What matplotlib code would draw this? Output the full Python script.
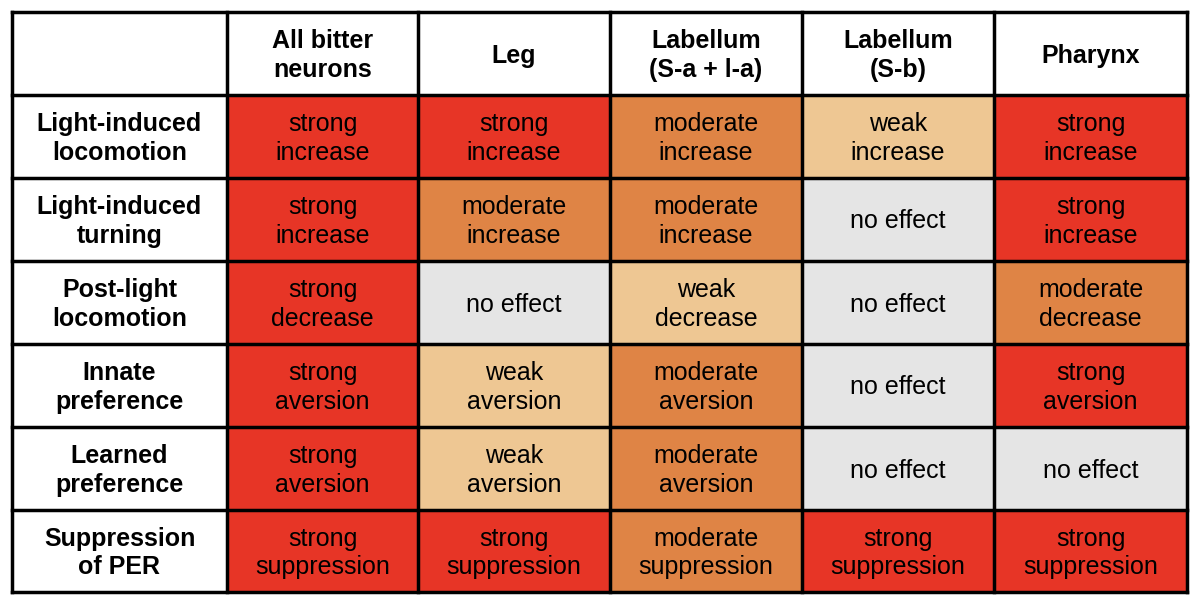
import matplotlib.pyplot as plt
from matplotlib.patches import Rectangle

plt.rcParams['font.family'] = ['Liberation Sans', 'DejaVu Sans']

# Table content
columns = ['All bitter\nneurons', 'Leg', 'Labellum\n(S-a + l-a)', 'Labellum\n(S-b)', 'Pharynx']
rows = ['Light-induced\nlocomotion', 'Light-induced\nturning', 'Post-light\nlocomotion',
        'Innate\npreference', 'Learned\npreference', 'Suppression\nof PER']
cells = [
    ['strong\nincrease', 'strong\nincrease', 'moderate\nincrease', 'weak\nincrease', 'strong\nincrease'],
    ['strong\nincrease', 'moderate\nincrease', 'moderate\nincrease', 'no effect', 'strong\nincrease'],
    ['strong\ndecrease', 'no effect', 'weak\ndecrease', 'no effect', 'moderate\ndecrease'],
    ['strong\naversion', 'weak\naversion', 'moderate\naversion', 'no effect', 'strong\naversion'],
    ['strong\naversion', 'weak\naversion', 'moderate\naversion', 'no effect', 'no effect'],
    ['strong\nsuppression', 'strong\nsuppression', 'moderate\nsuppression', 'strong\nsuppression', 'strong\nsuppression'],
]

colors = {'strong': '#E73526', 'moderate': '#DF8445', 'weak': '#EEC793', 'no': '#E5E5E5'}

# grid in pixel coords
x_edges = [12, 227, 418, 610, 802, 994, 1187]
y_edges = [12, 95, 178, 261, 344, 427, 510, 592]

fig = plt.figure(figsize=(12, 6.04), dpi=100)
ax = fig.add_axes([0, 0, 1, 1])
ax.set_xlim(0, 1200)
ax.set_ylim(604, 0)
ax.axis('off')

fs = 18
ls = 1.26

for j, col in enumerate(columns):
    x0, x1 = x_edges[j + 1], x_edges[j + 2]
    ax.text((x0 + x1) / 2, (y_edges[0] + y_edges[1]) / 2 + 2, col, ha='center', va='center',
            fontsize=fs, fontweight='bold', linespacing=ls)

for i, row in enumerate(rows):
    y0, y1 = y_edges[i + 1], y_edges[i + 2]
    ax.text((x_edges[0] + x_edges[1]) / 2, (y0 + y1) / 2 + 2, row, ha='center', va='center',
            fontsize=fs, fontweight='bold', linespacing=ls)
    for j, val in enumerate(cells[i]):
        x0, x1 = x_edges[j + 1], x_edges[j + 2]
        ax.add_patch(Rectangle((x0, y0), x1 - x0, y1 - y0,
                               facecolor=colors[val.split()[0]], edgecolor='none', zorder=0))
        ax.text((x0 + x1) / 2, (y0 + y1) / 2 + 2, val, ha='center', va='center',
                fontsize=fs, linespacing=ls)

# grid lines
for x in x_edges:
    ax.plot([x, x], [y_edges[0], y_edges[-1]], color='black', lw=2.5, solid_capstyle='projecting')
for y in y_edges:
    ax.plot([x_edges[0], x_edges[-1]], [y, y], color='black', lw=2.5, solid_capstyle='projecting')

fig.savefig('out.png', dpi=100, facecolor='white')
